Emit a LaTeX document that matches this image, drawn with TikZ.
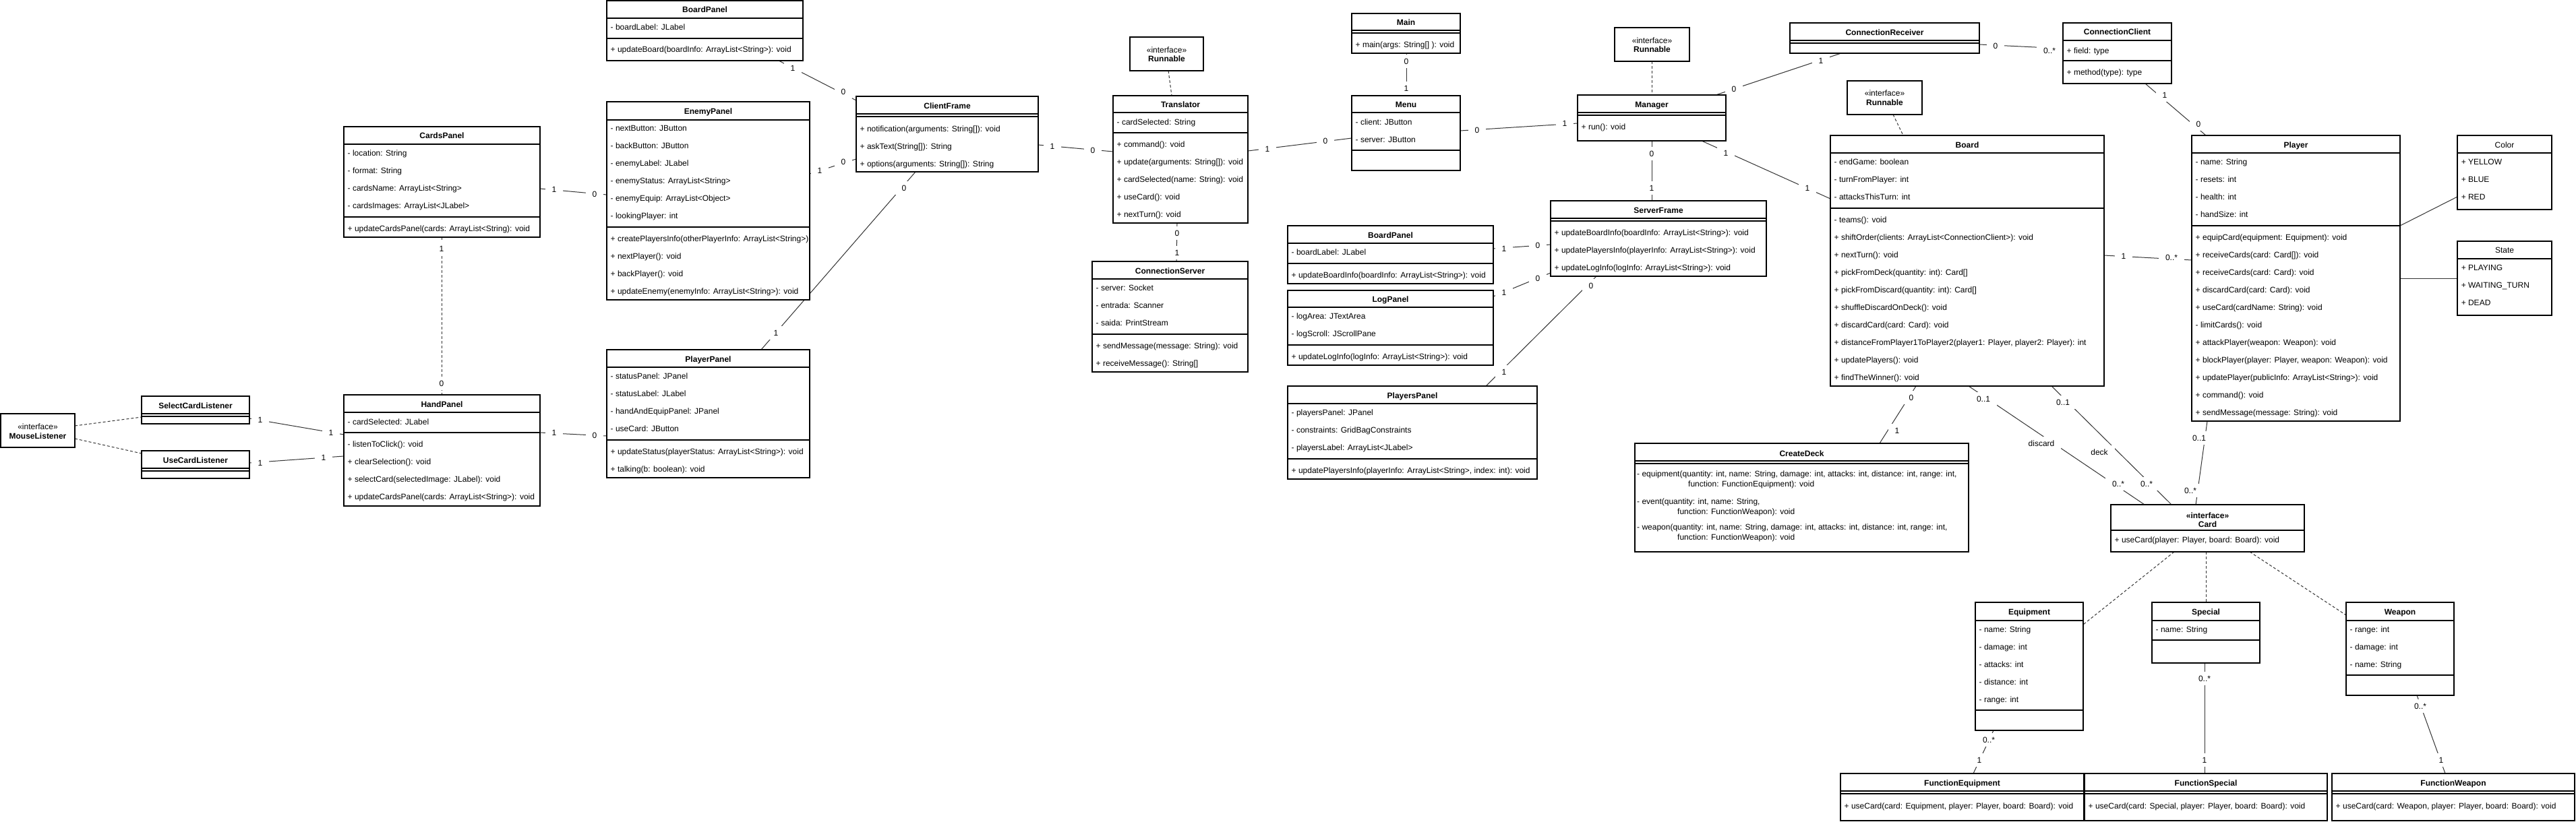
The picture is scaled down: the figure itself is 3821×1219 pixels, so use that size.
\documentclass[tikz,border=0pt]{standalone}
\usepackage{fontspec}
\setmainfont{Liberation Sans}
\usetikzlibrary{fit,calc}
\pgfdeclarelayer{bgfill}\pgfdeclarelayer{conn}\pgfdeclarelayer{lbl}
\pgfsetlayers{bgfill,conn,lbl,main}
\newcounter{tnc}
\newcommand\umlbox[5]{%
 \expandafter\def\csname bxa@#1\endcsname{#2}%
 \expandafter\def\csname bya@#1\endcsname{#3}%
 \expandafter\def\csname bxb@#1\endcsname{#4}%
 \def\curbox{#1}%
 \node[boxst, fit={(#2,#3) (#4,#5)}] (#1) {};}
\newcommand\xa{\csname bxa@\curbox\endcsname}
\newcommand\xb{\csname bxb@\curbox\endcsname}
\newcommand\dv[1]{\draw[divline] (\xa,#1) -- (\xb,#1);}
\newcommand\dd[1]{\draw[divline] (\xa,#1) -- (\xb,#1); \draw[divline] (\xa,#1+4) -- (\xb,#1+4);}
\newcommand\ttl[2]{\stepcounter{tnc}\node[btxt] (t\arabic{tnc}) at ({(\xa+\xb)/2},#1) {#2};}
\newcommand\tcr[2]{\stepcounter{tnc}\node[txt] (t\arabic{tnc}) at ({(\xa+\xb)/2},#1) {#2};}
\newcommand\tx[2]{\stepcounter{tnc}\node[txt,anchor=west] (t\arabic{tnc}) at ({\xa+5.5},#1) {#2};}
\newcommand\txa[3]{\stepcounter{tnc}\node[txt,anchor=west] (t\arabic{tnc}) at (#1,#2) {#3};}
\newcommand\lab[3]{\stepcounter{tnc}\node[lab] (t\arabic{tnc}) at (#1,#2) {#3};}
\newcommand\cn[7]{\draw[#1] ([shift={({#3-\csname bxa@#2\endcsname},{#4-\csname bya@#2\endcsname})}]#2.north west) -- ([shift={({#6-\csname bxa@#5\endcsname},{#7-\csname bya@#5\endcsname})}]#5.north west);}
\begin{document}
\begin{tikzpicture}[x=1pt,y=-1pt,
  boxst/.style={draw=black, line width=1.2pt, fill=white, inner sep=0pt, outer sep=0pt},
  divline/.style={draw=black, line width=1.2pt},
  txt/.style={font=\fontsize{12}{14}\selectfont, inner sep=0pt, text height=8.6pt, text depth=0pt},
  btxt/.style={font=\fontsize{12}{14}\selectfont\bfseries, inner sep=0pt, text height=8.6pt, text depth=0pt},
  lab/.style={font=\fontsize{12}{14}\selectfont, fill=white, inner xsep=10pt, inner ysep=6pt, text height=8.6pt, text depth=0pt},
  conn/.style={draw=black!80, line width=1pt},
  dconn/.style={conn, dash pattern=on 4pt off 3pt}]
\begin{pgfonlayer}{bgfill}
\fill[white] (0,0) rectangle (3821,1219);
\end{pgfonlayer}
\useasboundingbox (0,0) rectangle (3821,1219);
% ---------- client side ----------
\umlbox{ml}{1}{614}{111}{664}
\tcr{633}{«interface»} \ttl{647}{MouseListener}
\umlbox{scl}{210}{588}{370}{629}
\dd{614} \ttl{602}{SelectCardListener}
\umlbox{ucl}{210}{669}{370}{710}
\dd{695} \ttl{683}{UseCardListener}
\umlbox{cp}{510}{188}{801}{352}
\dv{214} \dv{322} \ttl{201}{CardsPanel}
\tx{227}{- location: String} \tx{253}{- format: String}
\tx{279}{- cardsName: ArrayList<String>} \tx{305}{- cardsImages: ArrayList<JLabel>}
\tx{339}{+ updateCardsPanel(cards: ArrayList<String): void}
\umlbox{hp}{510}{586}{801}{751}
\dv{612} \dv{642} \ttl{600}{HandPanel}
\tx{626}{- cardSelected: JLabel}
\tx{659}{- listenToClick(): void} \tx{685}{+ clearSelection(): void}
\tx{711}{+ selectCard(selectedImage: JLabel): void} \tx{737}{+ updateCardsPanel(cards: ArrayList<String>): void}
\umlbox{bp}{900}{1}{1191}{90}
\dv{27} \dv{57} \ttl{14}{BoardPanel}
\tx{40}{- boardLabel: JLabel} \tx{73}{+ updateBoard(boardInfo: ArrayList<String>): void}
\umlbox{ep}{900}{151}{1201}{445}
\dv{178} \dv{337} \ttl{165}{EnemyPanel}
\tx{190}{- nextButton: JButton} \tx{216}{- backButton: JButton} \tx{242}{- enemyLabel: JLabel}
\tx{268}{- enemyStatus: ArrayList<String>} \tx{294}{- enemyEquip: ArrayList<Object>} \tx{320}{- lookingPlayer: int}
\begin{scope}\clip (900,338) rectangle (1200.4,444); \tx{354}{+ createPlayersInfo(otherPlayerInfo: ArrayList<String>): void}\end{scope}
\tx{380}{+ nextPlayer(): void} \tx{406}{+ backPlayer(): void} \tx{432}{+ updateEnemy(enemyInfo: ArrayList<String>): void}
\umlbox{pp}{900}{519}{1201}{709}
\dv{545} \dv{653} \ttl{533}{PlayerPanel}
\tx{558}{- statusPanel: JPanel} \tx{584}{- statusLabel: JLabel} \tx{610}{- handAndEquipPanel: JPanel} \tx{636}{- useCard: JButton}
\tx{670}{+ updateStatus(playerStatus: ArrayList<String>): void} \tx{696}{+ talking(b: boolean): void}
\umlbox{cf}{1270}{143}{1540}{255}
\dd{169} \ttl{157}{ClientFrame}
\tx{191}{+ notification(arguments: String[]): void} \tx{217}{+ askText(String[]): String} \tx{243}{+ options(arguments: String[]): String}
\umlbox{rn1}{1676}{55}{1785}{105}
\tcr{74}{«interface»} \ttl{87}{Runnable}
\umlbox{tr}{1651}{142}{1851}{331}
\dv{167} \dv{197} \ttl{155}{Translator}
\tx{181}{- cardSelected: String}
\tx{214}{+ command(): void} \tx{240}{+ update(arguments: String[]): void} \tx{266}{+ cardSelected(name: String): void}
\tx{292}{+ useCard(): void} \tx{318}{+ nextTurn(): void}
\umlbox{cs}{1620}{388}{1851}{552}
\dv{414} \dv{496} \ttl{402}{ConnectionServer}
\tx{427}{- server: Socket} \tx{453}{- entrada: Scanner} \tx{479}{- saida: PrintStream}
\tx{513}{+ sendMessage(message: String): void} \tx{539}{+ receiveMessage(): String[]}
\umlbox{mn}{2005}{20}{2166}{79}
\dd{45} \ttl{33}{Main} \tx{66}{+ main(args: String[] ): void}
\umlbox{me}{2005}{142}{2166}{253}
\dv{167} \dv{223} \ttl{155}{Menu}
\tx{181}{- client: JButton} \tx{207}{- server: JButton}
% ---------- server side ----------
\umlbox{bps}{1910}{335}{2215}{421}
\dv{361} \dv{391} \ttl{349}{BoardPanel}
\tx{374}{- boardLabel: JLabel} \tx{408}{+ updateBoardInfo(boardInfo: ArrayList<String>): void}
\umlbox{lp}{1910}{431}{2215}{542}
\dv{456} \dv{512} \ttl{444}{LogPanel}
\tx{469}{- logArea: JTextArea} \tx{495}{- logScroll: JScrollPane} \tx{529}{+ updateLogInfo(logInfo: ArrayList<String>): void}
\umlbox{psp}{1910}{573}{2280}{711}
\dv{599} \dv{681} \ttl{587}{PlayersPanel}
\tx{612}{- playersPanel: JPanel} \tx{638}{- constraints: GridBagConstraints} \tx{664}{- playersLabel: ArrayList<JLabel>}
\tx{698}{+ updatePlayersInfo(playerInfo: ArrayList<String>, index: int): void}
\umlbox{rn2}{2395}{41}{2506}{91}
\tcr{60}{«interface»} \ttl{73}{Runnable}
\umlbox{mg}{2340}{141}{2560}{209}
\dd{167} \ttl{155}{Manager} \tx{188}{+ run(): void}
\umlbox{sf}{2300}{298}{2620}{410}
\dd{324} \ttl{312}{ServerFrame}
\tx{345}{+ updateBoardInfo(boardInfo: ArrayList<String>): void}
\tx{371}{+ updatePlayersInfo(playerInfo: ArrayList<String>): void}
\tx{397}{+ updateLogInfo(logInfo: ArrayList<String>): void}
\umlbox{cr}{2655}{34}{2936}{79}
\dd{60} \ttl{48}{ConnectionReceiver}
\umlbox{rn3}{2740}{120}{2851}{170}
\tcr{138}{«interface»} \ttl{152}{Runnable}
\umlbox{bd}{2715}{201}{3121}{573}
\dv{227} \dv{309} \ttl{215}{Board}
\tx{240}{- endGame: boolean} \tx{266}{- turnFromPlayer: int} \tx{292}{- attacksThisTurn: int}
\tx{326}{- teams(): void} \tx{352}{+ shiftOrder(clients: ArrayList<ConnectionClient>): void}
\tx{378}{+ nextTurn(): void} \tx{404}{+ pickFromDeck(quantity: int): Card[]}
\tx{430}{+ pickFromDiscard(quantity: int): Card[]} \tx{456}{+ shuffleDiscardOnDeck(): void}
\tx{482}{+ discardCard(card: Card): void}
\tx{508}{+ distanceFromPlayer1ToPlayer2(player1: Player, player2: Player): int}
\tx{534}{+ updatePlayers(): void} \tx{560}{+ findTheWinner(): void}
\umlbox{cc}{3060}{34}{3221}{124}
\dv{60} \dv{90} \ttl{47}{ConnectionClient}
\tx{75}{+ field: type} \tx{107}{+ method(type): type}
\umlbox{pl}{3251}{201}{3560}{625}
\dv{227} \dv{335} \ttl{215}{Player}
\tx{240}{- name: String} \tx{266}{- resets: int} \tx{292}{- health: int} \tx{318}{- handSize: int}
\tx{352}{+ equipCard(equipment: Equipment): void} \tx{378}{+ receiveCards(card: Card[]): void}
\tx{404}{+ receiveCards(card: Card): void} \tx{430}{+ discardCard(card: Card): void}
\tx{456}{+ useCard(cardName: String): void} \tx{482}{- limitCards(): void}
\tx{508}{+ attackPlayer(weapon: Weapon): void} \tx{534}{+ blockPlayer(player: Player, weapon: Weapon): void}
\tx{560}{+ updatePlayer(publicInfo: ArrayList<String>): void} \tx{586}{+ command(): void}
\tx{612}{+ sendMessage(message: String): void}
\umlbox{co}{3645}{201}{3785}{311}
\dv{227} \tcr{215}{Color}
\tx{240}{+ YELLOW} \tx{266}{+ BLUE} \tx{292}{+ RED}
\umlbox{st}{3645}{358}{3785}{468}
\dv{384} \tcr{371}{State}
\tx{397}{+ PLAYING} \tx{423}{+ WAITING\_TURN} \tx{449}{+ DEAD}
\umlbox{cd}{2425}{658}{2920}{819}
\dd{684} \ttl{673}{CreateDeck}
\txa{2428}{703}{- equipment(quantity: int, name: String, damage: int, attacks: int, distance: int, range: int,}
\txa{2504}{718}{function: FunctionEquipment): void}
\txa{2428}{744}{- event(quantity: int, name: String,}
\txa{2488}{759}{function: FunctionWeapon): void}
\txa{2428}{782}{- weapon(quantity: int, name: String, damage: int, attacks: int, distance: int, range: int,}
\txa{2488}{797}{function: FunctionWeapon): void}
\umlbox{ca}{3131}{749}{3418}{819}
\dv{787} \ttl{765}{«interface»} \ttl{778}{Card}
\tx{801}{+ useCard(player: Player, board: Board): void}
\umlbox{eq}{2930}{894}{3090}{1084}
\dv{921} \dv{1054} \ttl{908}{Equipment}
\tx{934}{- name: String} \tx{960}{- damage: int} \tx{986}{- attacks: int} \tx{1012}{- distance: int} \tx{1038}{- range: int}
\umlbox{sp}{3192}{894}{3352}{984}
\dv{921} \dv{950} \ttl{908}{Special} \tx{934}{- name: String}
\umlbox{wp}{3480}{894}{3640}{1032}
\dv{921} \dv{1002} \ttl{908}{Weapon}
\tx{934}{- range: int} \tx{960}{- damage: int} \tx{986}{- name: String}
\umlbox{fe}{2730}{1148}{3091}{1218}
\dd{1174} \ttl{1162}{FunctionEquipment} \tx{1196}{+ useCard(card: Equipment, player: Player, board: Board): void}
\umlbox{fs}{3092}{1148}{3452}{1218}
\dd{1174} \ttl{1162}{FunctionSpecial} \tx{1196}{+ useCard(card: Special, player: Player, board: Board): void}
\umlbox{fw}{3459}{1148}{3819}{1218}
\dd{1174} \ttl{1162}{FunctionWeapon} \tx{1196}{+ useCard(card: Weapon, player: Player, board: Board): void}
% ---------- connectors ----------
\begin{pgfonlayer}{conn}
\cn{dconn}{ml}{111}{632}{scl}{210}{619}
\cn{dconn}{ml}{111}{651}{ucl}{210}{673}
\cn{conn}{scl}{370}{621}{hp}{510}{645}
\cn{conn}{ucl}{370}{687}{hp}{510}{677}
\cn{dconn}{cp}{655}{352}{hp}{655}{586}
\cn{conn}{cp}{801}{280}{ep}{900}{289}
\cn{conn}{hp}{801}{642}{pp}{900}{647}
\cn{conn}{bp}{1155}{90}{cf}{1270}{149}
\cn{conn}{ep}{1201}{258}{cf}{1270}{236}
\cn{conn}{pp}{1129}{519}{cf}{1358}{255}
\cn{conn}{cf}{1540}{215}{tr}{1651}{225}
\cn{dconn}{rn1}{1733}{105}{tr}{1738}{142}
\cn{conn}{tr}{1746}{331}{cs}{1745}{388}
\cn{conn}{tr}{1851}{224}{me}{2005}{205}
\cn{conn}{mn}{2086}{79}{me}{2086}{142}
\cn{conn}{me}{2166}{194}{mg}{2340}{183}
\cn{dconn}{rn2}{2450}{91}{mg}{2450}{141}
\cn{conn}{cr}{2731}{79}{mg}{2545}{141}
\cn{conn}{mg}{2450}{209}{sf}{2450}{298}
\cn{conn}{mg}{2524}{209}{bd}{2715}{295}
\cn{conn}{bps}{2215}{369}{sf}{2300}{363}
\cn{conn}{lp}{2215}{440}{sf}{2300}{405}
\cn{conn}{psp}{2204}{573}{sf}{2368}{410}
\cn{conn}{cr}{2936}{66}{cc}{3060}{72}
\cn{conn}{cc}{3182}{124}{pl}{3272}{201}
\cn{conn}{bd}{3121}{379}{pl}{3251}{386}
\cn{conn}{pl}{3560}{335}{co}{3645}{292}
\cn{conn}{pl}{3560}{413}{st}{3645}{413}
\cn{dconn}{rn3}{2808}{170}{bd}{2823}{201}
\cn{conn}{bd}{2842}{573}{cd}{2788}{658}
\cn{conn}{bd}{2920}{573}{ca}{3181}{749}
\cn{conn}{bd}{3043}{573}{ca}{3221}{749}
\cn{conn}{pl}{3274}{625}{ca}{3257}{749}
\cn{dconn}{ca}{3225}{819}{eq}{3090}{927}
\cn{dconn}{ca}{3272}{819}{sp}{3272}{894}
\cn{dconn}{ca}{3337}{819}{wp}{3480}{913}
\cn{conn}{eq}{2957}{1084}{fe}{2927}{1148}
\cn{conn}{sp}{3270}{984}{fs}{3270}{1148}
\cn{conn}{wp}{3585}{1032}{fw}{3627}{1148}
\end{pgfonlayer}
% ---------- labels ----------
\begin{pgfonlayer}{lbl}
\lab{386}{623}{1} \lab{491}{642}{1} \lab{386}{687}{1} \lab{480}{679}{1}
\lab{655}{369}{1} \lab{655}{569}{0}
\lab{822}{281}{1} \lab{882}{288}{0} \lab{822}{642}{1} \lab{882}{646}{0}
\lab{1176}{101}{1} \lab{1251}{136}{0} \lab{1216}{253}{1} \lab{1251}{240}{0}
\lab{1151}{494}{1} \lab{1341}{279}{0}
\lab{1561}{217}{1} \lab{1621}{223}{0}
\lab{1746}{346}{0} \lab{1746}{375}{1}
\lab{1880}{221}{1} \lab{1966}{209}{0}
\lab{2086}{91}{0} \lab{2086}{131}{1}
\lab{2191}{193}{0} \lab{2321}{183}{1}
\lab{2701}{90}{1} \lab{2572}{132}{0}
\lab{2450}{228}{0} \lab{2450}{279}{1}
\lab{2560}{227}{1} \lab{2681}{279}{1}
\lab{2231}{369}{1} \lab{2281}{364}{0}
\lab{2231}{434}{1} \lab{2281}{413}{0}
\lab{2231}{552}{1} \lab{2360}{424}{0}
\lab{2960}{68}{0} \lab{3040}{75}{0..*}
\lab{3211}{141}{1} \lab{3261}{184}{0}
\lab{3150}{380}{1} \lab{3221}{382}{0..*}
\lab{2835}{590}{0} \lab{2814}{639}{1}
\lab{2942}{592}{0..1} \lab{3028}{658}{discard} \lab{3142}{718}{0..*}
\lab{3060}{597}{0..1} \lab{3114}{671}{deck} \lab{3184}{718}{0..*}
\lab{3262}{650}{0..1} \lab{3249}{728}{0..*}
\lab{2950}{1098}{0..*} \lab{2936}{1128}{1}
\lab{3270}{1007}{0..*} \lab{3270}{1128}{1}
\lab{3590}{1048}{0..*} \lab{3621}{1128}{1}
\end{pgfonlayer}
\end{tikzpicture}
\end{document}
